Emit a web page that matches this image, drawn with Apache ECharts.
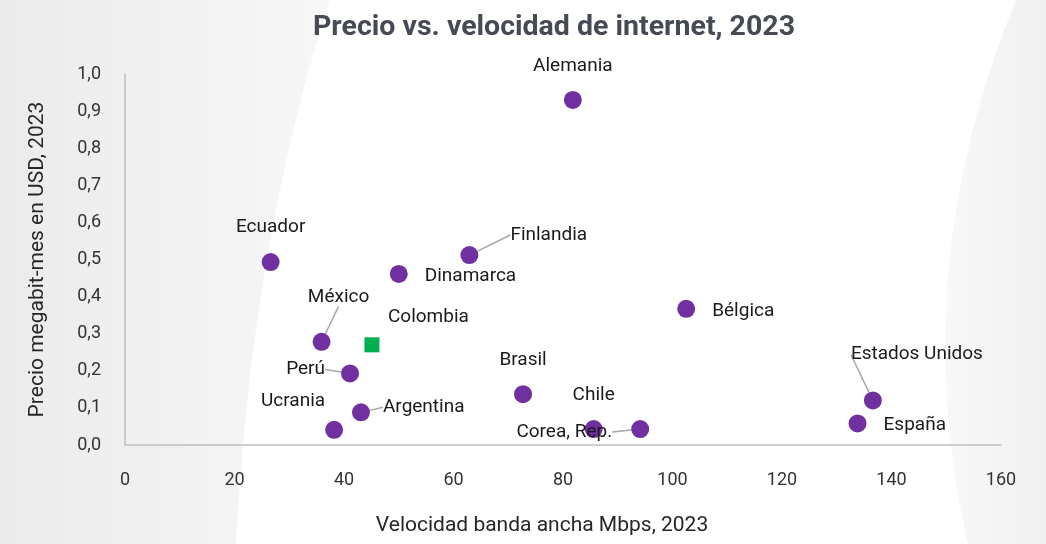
<!DOCTYPE html>
<html lang="es">
<head>
    <meta charset="UTF-8">
    <title>Precio vs. velocidad de internet, 2023</title>
    <script src="https://cdn.jsdelivr.net/npm/echarts@6/dist/echarts.min.js"></script>
    <style>
        html, body { margin: 0; padding: 0; background: #fff; }
        #main { width: 1046px; height: 544px; }
    </style>
</head>
<body>
<div id="main"></div>
<script>
    // datos
    var paises = ['Alemania', 'Ecuador', 'Finlandia', 'Dinamarca', 'Bélgica', 'México', 'Colombia', 'Perú',
        'Argentina', 'Ucrania', 'Brasil', 'Chile', 'Corea, Rep.', 'Estados Unidos', 'España'];
    var velocidad = [81.8, 26.6, 62.9, 50.0, 102.5, 35.9, 45.1, 41.1, 43.1, 38.2, 72.7, 85.6, 94.1, 136.6, 133.8];
    var precio = [0.930, 0.493, 0.512, 0.461, 0.367, 0.278, 0.270, 0.193, 0.088, 0.041, 0.137, 0.043, 0.043, 0.120, 0.058];
    var destacado = 'Colombia';

    var yTicks = [0, 0.1, 0.2, 0.3, 0.4, 0.5, 0.6, 0.7, 0.8, 0.9, 1.0];
    var xTicks = [0, 20, 40, 60, 80, 100, 120, 140, 160];

    // posición de cada etiqueta respecto al punto: [dx, dy, align, línea guía]
    var etiquetas = {
        'Alemania': [0, -34, 'center', false],
        'Ecuador': [0, -35, 'center', false],
        'Finlandia': [41, -20, 'left', true],
        'Dinamarca': [26, 2, 'left', false],
        'Bélgica': [26, 2, 'left', false],
        'México': [17, -45, 'center', true],
        'Colombia': [16, -28, 'left', false],
        'Perú': [-25, -4, 'right', true],
        'Argentina': [22, -5, 'left', true],
        'Ucrania': [-9, -29, 'right', false],
        'Brasil': [0, -34, 'center', false],
        'Chile': [0, -34, 'center', false],
        'Corea, Rep.': [-28, 3, 'right', true],
        'Estados Unidos': [44, -46, 'center', true],
        'España': [26, 2, 'left', false]
    };

    var fuente = 'Roboto, "Noto Sans", sans-serif';

    // curva del fondo (bezier cuadrática como polígono)
    function curva(p0, p1, p2, extra) {
        var pts = [];
        for (var k = 0; k <= 30; k++) {
            var t = k / 30;
            pts.push([
                (1 - t) * (1 - t) * p0[0] + 2 * (1 - t) * t * p1[0] + t * t * p2[0],
                (1 - t) * (1 - t) * p0[1] + 2 * (1 - t) * t * p1[1] + t * t * p2[1]
            ]);
        }
        return pts.concat(extra);
    }

    var puntos = paises.map(function (p, i) {
        var item = {name: p, value: [velocidad[i], precio[i]]};
        if (p == destacado) {
            item.symbol = 'rect';
            item.symbolSize = 15;
            item.itemStyle = {color: '#00b050'};
        }
        if (etiquetas[p][3]) {
            item.labelLine = {show: true};
        }
        return item;
    });

    var myChart = echarts.init(document.getElementById('main'));
    var option = {
        backgroundColor: '#ffffff',
        animation: false,
        textStyle: {fontFamily: fuente},
        graphic: [
            {
                type: 'polygon', z: -10, silent: true,
                shape: {points: curva([330, 0], [252, 240], [236, 544], [[0, 544], [0, 0]])},
                style: {
                    fill: new echarts.graphic.LinearGradient(0, 0, 1, 0, [
                        {offset: 0, color: '#ebebeb'},
                        {offset: 1, color: '#f7f7f7'}
                    ])
                }
            },
            {
                type: 'polygon', z: -10, silent: true,
                shape: {points: curva([1016, 0], [905, 270], [968, 544], [[1046, 544], [1046, 0]])},
                style: {
                    fill: new echarts.graphic.LinearGradient(0, 0, 1, 0, [
                        {offset: 0, color: '#f8f8f8'},
                        {offset: 1, color: '#f0f0f0'}
                    ])
                }
            }
        ],
        title: {
            text: 'Precio vs. velocidad de internet, 2023',
            left: 308,
            top: 8,
            textStyle: {
                fontFamily: fuente,
                fontSize: 28.5,
                fontWeight: 'bold',
                color: '#464a54'
            }
        },
        grid: {
            left: 125,
            right: 45,
            top: 74,
            bottom: 99,
            containLabel: false,
            outerBoundsMode: 'none'
        },
        xAxis: {
            type: 'value',
            min: xTicks[0],
            max: xTicks[xTicks.length - 1],
            interval: 20,
            name: 'Velocidad banda ancha Mbps, 2023',
            nameLocation: 'middle',
            nameGap: 70,
            nameTextStyle: {fontSize: 21, color: '#262626', padding: [0, 42, 0, 0]},
            axisLine: {lineStyle: {color: '#bfbfbf', width: 1.5}},
            axisTick: {show: false},
            splitLine: {show: false},
            axisLabel: {fontSize: 18, color: '#333333', margin: 26}
        },
        yAxis: {
            type: 'value',
            min: yTicks[0],
            max: yTicks[yTicks.length - 1],
            interval: 0.1,
            name: 'Precio megabit-mes en USD, 2023',
            nameLocation: 'middle',
            nameGap: 77,
            nameTextStyle: {fontSize: 21, color: '#262626'},
            axisLine: {show: true, lineStyle: {color: '#bfbfbf', width: 1.5}},
            axisTick: {show: false},
            splitLine: {show: false},
            axisLabel: {
                fontSize: 18, color: '#333333', margin: 24,
                formatter: function (v) {
                    return v.toFixed(1).replace('.', ',');
                }
            }
        },
        series: [{
            type: 'scatter',
            symbolSize: 18,
            itemStyle: {color: '#7030a0', opacity: 1},
            data: puntos,
            label: {
                show: true,
                formatter: '{b}',
                fontSize: 19,
                color: '#1a1a1a'
            },
            labelLine: {
                show: false,
                lineStyle: {color: '#a6a6a6', width: 1.5}
            },
            labelLayout: function (params) {
                var e = etiquetas[paises[params.dataIndex]];
                var r = params.rect;
                return {
                    x: r.x + r.width / 2 + e[0],
                    y: r.y + r.height / 2 + e[1],
                    align: e[2],
                    verticalAlign: 'middle'
                };
            }
        }]
    };
    myChart.setOption(option);
</script>
</body>
</html>
